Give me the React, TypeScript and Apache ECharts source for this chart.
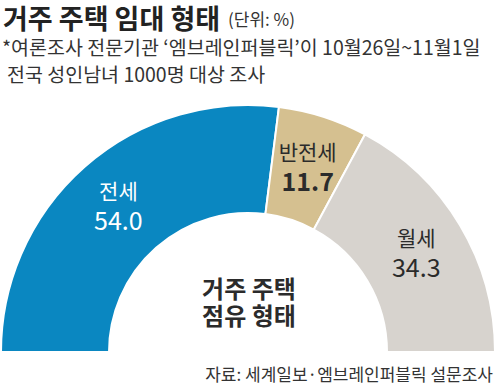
import React, { useEffect, useRef } from "react";
import * as echarts from "echarts";

const categories = ["전세", "반전세", "월세"];
const values = [54.0, 11.7, 34.3];
const colors = ["#0a87c1", "#d5c090", "#d7d3ce"];
const labelColors = ["#ffffff", "#2b2b2b", "#2b2b2b"];

const FONT = "'Noto Sans CJK KR', 'Noto Sans', sans-serif";

export default function App() {
  const ref = useRef<HTMLDivElement>(null);
  useEffect(() => {
    document.body.style.margin = "0";
    const chart = echarts.init(ref.current!, null, { renderer: "svg" });
    chart.setOption({
      animation: false,
      backgroundColor: "#ffffff",
      graphic: [
        {
          type: "text",
          x: 3,
          y: 17,
          style: {
            text: "거주 주택 임대 형태",
            font: `bold 27px ${FONT}`,
            fill: "#222",
            verticalAlign: "middle",
            lineHeight: 27,
          },
        },
        {
          type: "text",
          x: 228,
          y: 18,
          style: {
            text: "(단위: %)",
            font: `17px ${FONT}`,
            fill: "#333",
            verticalAlign: "middle",
            lineHeight: 18,
          },
        },
        {
          type: "text",
          x: 2,
          y: 46,
          style: {
            text: "*여론조사 전문기관 ‘엠브레인퍼블릭’이 10월26일~11월1일",
            font: `19.5px ${FONT}`,
            fill: "#333",
            verticalAlign: "middle",
            lineHeight: 21,
          },
        },
        {
          type: "text",
          x: 7,
          y: 73,
          style: {
            text: "전국 성인남녀 1000명 대상 조사",
            font: `19.5px ${FONT}`,
            fill: "#333",
            verticalAlign: "middle",
            lineHeight: 21,
          },
        },
        {
          type: "text",
          x: 249,
          y: 287,
          style: {
            text: "거주 주택",
            font: `bold 24px ${FONT}`,
            fill: "#2b2b2b",
            align: "center",
            verticalAlign: "middle",
            lineHeight: 25,
          },
        },
        {
          type: "text",
          x: 249,
          y: 314,
          style: {
            text: "점유 형태",
            font: `bold 24px ${FONT}`,
            fill: "#2b2b2b",
            align: "center",
            verticalAlign: "middle",
            lineHeight: 25,
          },
        },
        {
          type: "text",
          x: 493,
          y: 373,
          style: {
            text: "자료: 세계일보·엠브레인퍼블릭 설문조사",
            font: `17px ${FONT}`,
            fill: "#333",
            align: "right",
            verticalAlign: "middle",
            lineHeight: 18,
          },
        },
      ],
      series: [
        {
          type: "pie",
          center: [248, 352],
          radius: [139, 247],
          startAngle: 180,
          endAngle: 0,
          clockwise: true,
          silent: true,
          itemStyle: { borderColor: "#ffffff", borderWidth: 2 },
          label: {
            show: true,
            position: "inside",
            formatter: (p: any) => `{n|${p.name}}\n{v|${p.value.toFixed(1)}}`,
          },
          labelLine: { show: false },
          data: categories.map((c, i) => ({
            name: c,
            value: values[i],
            itemStyle: { color: colors[i] },
            label: {
              color: labelColors[i],
              rich: {
                n: { color: labelColors[i], fontFamily: FONT, fontSize: 21, lineHeight: 29 },
                v: {
                  color: labelColors[i],
                  fontFamily: FONT,
                  fontSize: 25,
                  lineHeight: 29,
                  fontWeight: i === 1 ? "bold" : "normal",
                },
              },
            },
          })),
        },
      ],
    });
    return () => chart.dispose();
  }, []);
  return <div ref={ref} style={{ width: 500, height: 384, position: "absolute", left: 0, top: 0 }} />;
}
